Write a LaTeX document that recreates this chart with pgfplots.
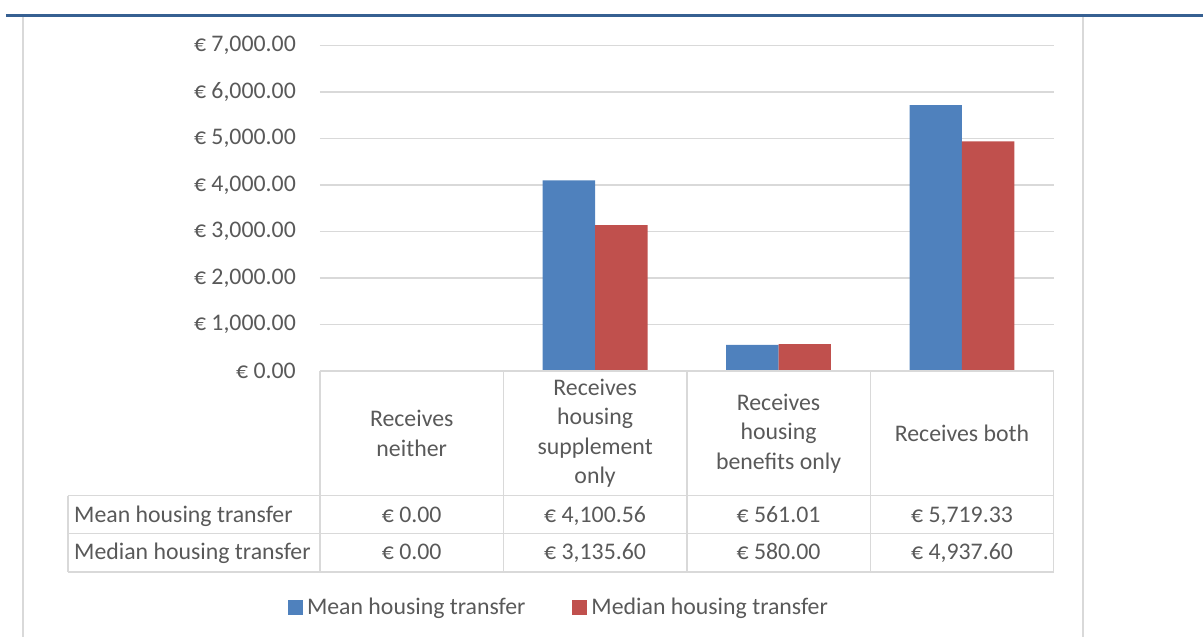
\documentclass[border=0pt]{standalone}
\usepackage{fontspec}
\setmainfont{Carlito}
\usepackage{pgfplots}
\pgfplotsset{compat=1.18}
\definecolor{txt}{HTML}{595959}
\definecolor{gridc}{HTML}{D9D9D9}
\definecolor{bblue}{HTML}{4F81BD}
\definecolor{bred}{HTML}{C0504D}
\definecolor{topline}{HTML}{366092}
\begin{document}
\fontsize{23.8bp}{29.5bp}\selectfont
\begin{tikzpicture}[x=1bp,y=1bp]
\useasboundingbox (-320,-266) rectangle (883,371);
\draw[gridc, line width=1.5bp] (-297,354) -- (-297,-266);
\draw[gridc, line width=1.5bp] (763,354) -- (763,-266);
\draw[topline, line width=2.7bp] (-314,355.5) -- (883,355.5);
\begin{axis}[
  at={(0,0)}, anchor=south west,
  scale only axis, width=733.7bp, height=325.5bp,
  xmin=-0.5, xmax=3.5, ymin=0, ymax=7000,
  axis line style={draw=none},
  ymajorgrids, grid style={gridc, line width=1.3bp},
  major tick length=0pt,
  ytick={0,1000,2000,3000,4000,5000,6000,7000},
  yticklabels={{€ 0.00},{€ 1,000.00},{€ 2,000.00},{€ 3,000.00},{€ 4,000.00},{€ 5,000.00},{€ 6,000.00},{€ 7,000.00}},
  yticklabel style={anchor=east, inner sep=0pt, xshift=-24bp, text=txt},
  xtick={0,1,2,3},
  xticklabels={{Receives\\neither},{Receives\\housing\\supplement\\only},{Receives\\housing\\benefits only},{Receives both}},
  xticklabel style={anchor=center, align=center, inner sep=0pt, yshift=-62.3bp, text=txt},
  ybar=0pt, bar width=52.4bp,
  legend columns=2,
  legend image code/.code={\fill[#1] (0bp,-7.5bp) rectangle (15bp,7.5bp);},
  legend style={draw=none, fill=none, inner sep=0pt, outer sep=0pt,
    at={(-0.0436,-0.728)}, anchor=west, text=txt,
    nodes={inner sep=0pt},
    /tikz/every odd column/.append style={column sep=4bp},
    /tikz/every even column/.append style={column sep=47bp}},
]
\addplot[fill=bblue, draw=none] coordinates {(0,0) (1,4100.56) (2,561.01) (3,5719.33)};
\addlegendentry{Mean housing transfer}
\addplot[fill=bred, draw=none] coordinates {(0,0) (1,3135.60) (2,580.00) (3,4937.60)};
\addlegendentry{Median housing transfer}
\end{axis}
\begin{scope}[gridc, line width=1.3bp]
\draw (0,0) -- (733.7,0);
\foreach \x in {0,183.4,366.85,550.3,733.7} \draw (\x,0) -- (\x,-201);
\foreach \y in {-124.7,-162.7,-201} \draw (-252,\y) -- (733.7,\y);
\draw (-252,-124.7) -- (-252,-201);
\end{scope}
\begin{scope}[every node/.style={text=txt, inner sep=0pt}]
\node[anchor=base west] at (-246,-151.3) {Mean housing transfer};
\node[anchor=base west] at (-246,-189) {Median housing transfer};
\node[anchor=base] at (91.7,-151.3) {€ 0.00};
\node[anchor=base] at (275.1,-151.3) {€ 4,100.56};
\node[anchor=base] at (458.5,-151.3) {€ 561.01};
\node[anchor=base] at (642,-151.3) {€ 5,719.33};
\node[anchor=base] at (91.7,-189) {€ 0.00};
\node[anchor=base] at (275.1,-189) {€ 3,135.60};
\node[anchor=base] at (458.5,-189) {€ 580.00};
\node[anchor=base] at (642,-189) {€ 4,937.60};
\end{scope}
\end{tikzpicture}
\end{document}
